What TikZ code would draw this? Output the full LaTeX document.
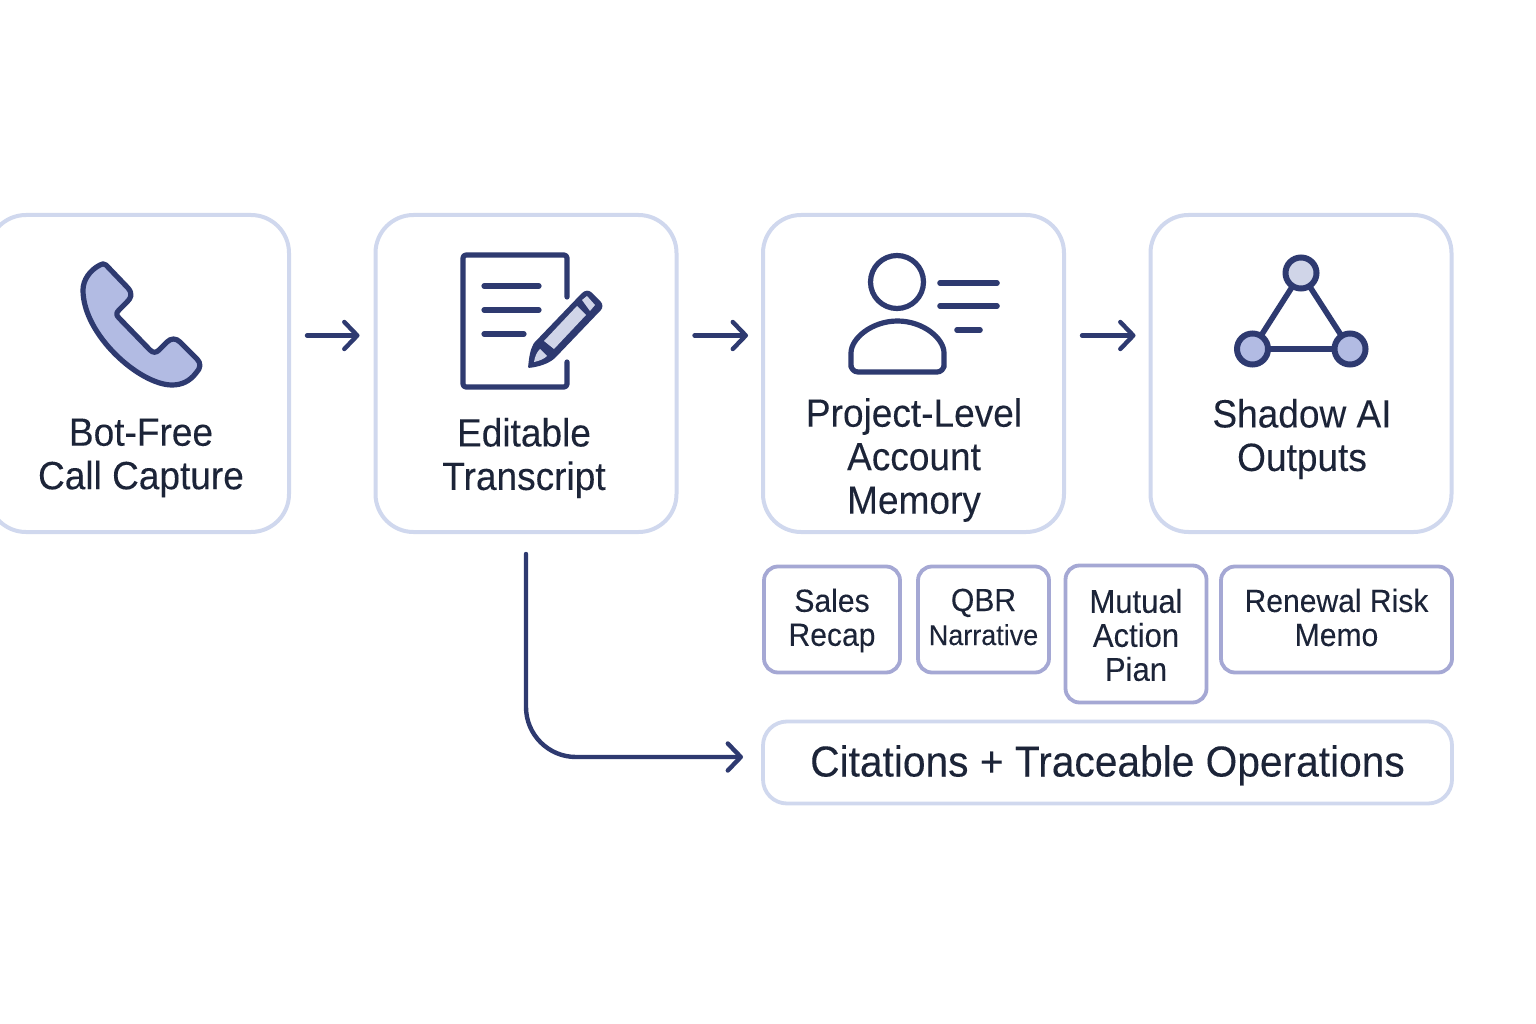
\documentclass[tikz,border=0pt]{standalone}
\usepackage{fontspec}
\setmainfont{Liberation Sans}[FakeStretch=0.94,FakeBold=0.12]
\usetikzlibrary{arrows.meta,positioning,calc}

\definecolor{inkblue}{HTML}{2E3A70}
\definecolor{inktext}{HTML}{1C2438}
\definecolor{cardline}{HTML}{D0D8EE}
\definecolor{chipline}{HTML}{A5A8D4}
\definecolor{lavender}{HTML}{B2BBE3}
\definecolor{palegrey}{HTML}{D0D5E8}

\begin{document}
\begin{tikzpicture}[
  x=1pt, y=-1pt,
  node distance=86.5pt,
  flow/.style={-{Straight Barb[round,length=13pt,width=27pt,line width=4.4pt]},line width=4.4pt,line cap=round,draw=inkblue},
  card/.style={rectangle, rounded corners=38pt, draw=cardline, line width=4pt, fill=white, minimum width=301pt, minimum height=317pt, outer sep=0pt},
  chip/.style={rectangle, rounded corners=14pt, draw=chipline, line width=3.8pt, fill=white, outer sep=0pt, inner sep=0pt},
  chiptext/.style={align=center, text=inktext, inner sep=0pt, font=\fontsize{32}{34}\selectfont},
  banner/.style={rectangle, rounded corners=24pt, draw=cardline, line width=3.8pt, fill=white, outer sep=0pt, text=inktext, font=\fontsize{43.3}{44}\selectfont, inner sep=0pt, text height=31.5pt, text depth=3.5pt},
  caption/.style={align=center, text=inktext, inner sep=0pt, font=\fontsize{39.4}{43.5}\selectfont},
  icon/.style={draw=inkblue, line width=5.2pt, line join=round, line cap=round},
  dot/.style={circle, draw=inkblue, line width=6pt, inner sep=0pt, minimum size=31pt, outer sep=0pt}
]
\useasboundingbox (0,0) rectangle (1536,1024);
\fill[white] (0,0) rectangle (1536,1024);

% Cards
\node[card] (capture) at (138.5,373.5) {};
\node[card, right=of capture] (transcript) {};
\node[card, right=of transcript] (memory) {};
\node[card, right=of memory] (shadow) {};

% Card captions
\node[caption] (captureText) at (141,458) {Bot-Free\\Call Capture};
\node[caption] (transcriptText) at (524,458) {Editable\\Transcript};
\node[caption] (memoryText) at (914,460) {Project-Level\\Account\\Memory};
\node[caption] (shadowText) at (1302,439) {Shadow AI\\Outputs};

% Output chips
\node[chip, minimum width=136pt, minimum height=106pt] (recap) at (832,619.5) {};
\node[chip, minimum width=131pt, minimum height=106pt] (qbr) at (983.5,619.5) {};
\node[chip, minimum width=141pt, minimum height=137pt] (plan) at (1136,634) {};
\node[chip, minimum width=231pt, minimum height=106pt] (risk) at (1336.5,619.5) {};
\node[chiptext] (recapText) at (832,620.5) {Sales\\Recap};
\node[chiptext] (qbrText) at (983.5,617) {QBR\\{\fontsize{28.7}{34}\selectfont Narrative}};
\node[chiptext, font=\fontsize{33}{34}\selectfont] (planText) at (1136,635) {Mutual\\Action\\Pian};
\node[chiptext] (riskText) at (1336.5,617.5) {Renewal Risk\\Memo};
\node[banner, minimum width=689pt, minimum height=82pt] (cite) at (1107.5,762.5) {Citations + Traceable Operations};

% Phone icon
\draw[icon, fill=lavender] (106,265) -- (128,288) .. controls (133,294) and (131,298) .. (127,302)
  -- (119,310) .. controls (116,313) and (116,315) .. (119,318)
  -- (150,350) .. controls (153,353) and (156,353) .. (159,350)
  -- (167,342) .. controls (171,338) and (176,338) .. (180,342)
  -- (197,359) .. controls (201,363) and (201,368) .. (196,373)
  .. controls (190,381) and (182,385) .. (172,385)
  .. controls (140,385) and (83,335) .. (83,290)
  .. controls (83,280) and (90,270) .. (100,265)
  .. controls (102,264) and (104,263) .. (106,265) -- cycle;

% Document icon
\draw[icon, rounded corners=3pt] (567,297) -- (567,255) -- (463,255) -- (463,387) -- (567,387) -- (567,362);
\foreach \y/\xe in {286/539, 310/539, 334/524}
  \draw[icon] (484,\y) -- (\xe,\y);

% Pencil on the document
\fill[inkblue, rounded corners=1pt] (528,368) .. controls (529,358) and (530,350) .. (534,343)
  -- (581,294) .. controls (585,290) and (589,290) .. (592,293) -- (600,301)
  .. controls (603,304) and (603,308) .. (600,311) -- (555,358)
  .. controls (548,364) and (538,367) .. (528,368) -- cycle;
\fill[palegrey] (544,341) -- (577,306) -- (586,315) -- (554,349) -- cycle;
\fill[palegrey] (582,300) -- (587,296) -- (595,305) -- (590,311) -- cycle;
\fill[palegrey] (534,362) .. controls (535,356) and (537,352) .. (540,349) -- (547,356) .. controls (544,359) and (539,361) .. (534,362) -- cycle;

% Person icon
\draw[icon] (897,282) circle (26.5);
\draw[icon, rounded corners=7pt] (851,372) -- (851,360) arc[start angle=180, end angle=0, x radius=46.5, y radius=-39] -- (944,372) -- cycle;
\foreach \y/\xs/\xe in {283/940/997, 306/940/997, 330/957/980}
  \draw[icon, line width=5.6pt] (\xs,\y) -- (\xe,\y);

% Network icon
\draw[icon, line width=5.6pt] (1301,273) -- (1252.5,349) -- (1350,349) -- cycle;
\node[dot, fill=palegrey] (top) at (1301,273) {};
\node[dot, fill=lavender] (left) at (1252.5,349) {};
\node[dot, fill=lavender] (right) at (1350,349) {};

% Arrows
\draw[flow, shorten <=18pt, shorten >=16pt] ([yshift=38pt]capture.east) -- ([yshift=38pt]transcript.west);
\draw[flow, shorten <=18pt, shorten >=15pt] ([yshift=38pt]transcript.east) -- ([yshift=38pt]memory.west);
\draw[flow, shorten <=18pt, shorten >=15pt] ([yshift=38pt]memory.east) -- ([yshift=38pt]shadow.west);
\draw[flow, rounded corners=50pt, shorten <=22pt, shorten >=20pt] (transcript.south) |- ([yshift=5.5pt]cite.west);

\end{tikzpicture}
\end{document}
